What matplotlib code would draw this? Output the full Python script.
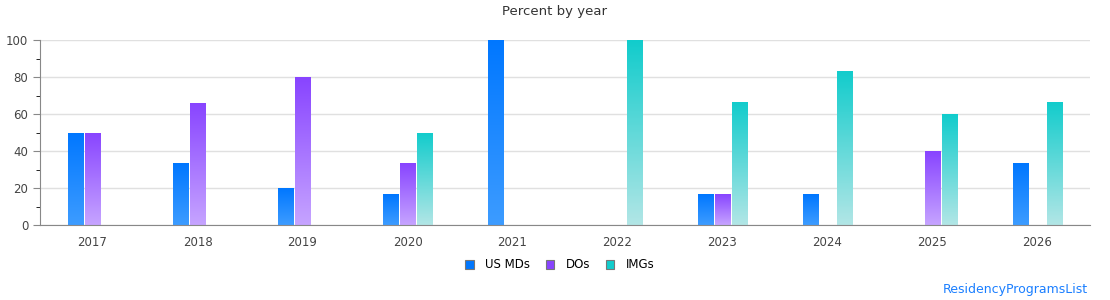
import numpy as np
import matplotlib
matplotlib.use('Agg')
import matplotlib.pyplot as plt
from matplotlib.colors import LinearSegmentedColormap
from matplotlib.patches import Patch

years = ['2017', '2018', '2019', '2020', '2021', '2022', '2023', '2024', '2025', '2026']
us_mds = [50, 33.3, 20, 16.7, 100, 0, 16.7, 16.7, 0, 33.3]
dos = [50, 66, 80, 33.3, 0, 0, 16.7, 0, 40, 0]
imgs = [0, 0, 0, 50, 0, 100, 66.7, 83.3, 60, 66.7]
series = [('US MDs', us_mds, '#0077ff', '#3d9cff'),
          ('DOs', dos, '#8844ff', '#c6a4ff'),
          ('IMGs', imgs, '#11cccc', '#b2e6e6')]

fig = plt.figure(figsize=(11.1, 3.0), dpi=100)
ax = fig.add_axes([40/1110, 75/300, 1050/1110, 185/300])

x = np.arange(len(years))
w = 0.146
offs = [-0.162, 0, 0.162]
grad = np.linspace(1, 0, 256).reshape(-1, 1)
for (name, vals, top, bot), o in zip(series, offs):
    cmap = LinearSegmentedColormap.from_list(name, [bot, top])
    bars = ax.bar(x + o, vals, w, color='none', edgecolor='none', zorder=3)
    for b, v in zip(bars, vals):
        if v <= 0:
            continue
        x0 = b.get_x()
        im = ax.imshow(grad, cmap=cmap, extent=[x0, x0 + w, 0, v], aspect='auto',
                       origin='upper', zorder=2, interpolation='bilinear')
        im.set_clip_path(b)

ax.set_xlim(-0.5, len(years) - 0.5)
ax.set_ylim(0, 100)
ax.set_xticks(x)
ax.set_xticklabels(years)
ax.set_yticks(range(0, 101, 20))
ax.set_yticks(range(0, 101, 10), minor=True)
ax.grid(axis='y', color='#e0e0e0', lw=1, zorder=0)
ax.set_axisbelow(True)
for s in ['top', 'right']:
    ax.spines[s].set_visible(False)
for s in ['left', 'bottom']:
    ax.spines[s].set_color('#888888')
ax.tick_params(axis='both', colors='#888888', labelcolor='#444444', labelsize=8.5)
ax.tick_params(axis='x', length=0, pad=8)
ax.tick_params(axis='y', which='major', length=5)
ax.tick_params(axis='y', which='minor', length=3)

fig.text(0.5, 1 - 12/300, 'Percent by year', ha='center', va='center', fontsize=9.5, color='#333333')

handles = [Patch(facecolor=top, edgecolor='#777777', lw=0.8, label=name) for name, _, top, _ in series]
fig.legend(handles=handles, loc='center', bbox_to_anchor=(560/1110, 1 - 265/300), ncol=3,
           frameon=False, fontsize=8.5, handlelength=0.7, handleheight=0.7,
           columnspacing=1.3, handletextpad=1.0)

fig.text(1 - 22/1110, 1 - 290/300, 'ResidencyProgramsList', ha='right', va='center',
         fontsize=9, color='#1a7fff')

fig.savefig('out.png', dpi=100)
